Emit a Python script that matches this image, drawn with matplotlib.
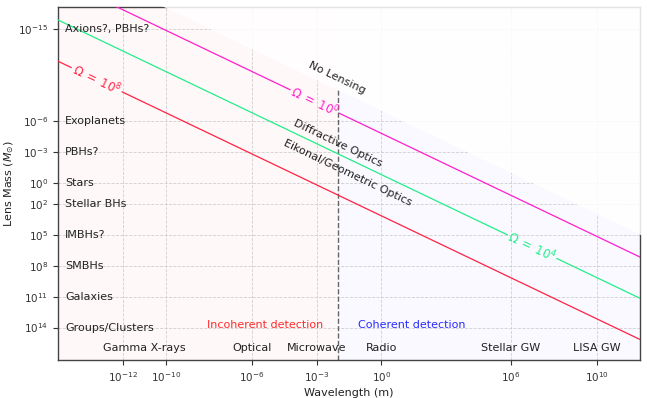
import numpy as np
import matplotlib
matplotlib.use('Agg')
import matplotlib.pyplot as plt
import matplotlib.transforms as mtransforms

plt.rcParams['font.family'] = ['DejaVu Sans']
plt.rcParams['mathtext.fontset'] = 'dejavusans'

# ---------------- data ----------------
lam_limits = [1e-15, 1e12]
mass_limits = [10**-17.1, 10**17.15]

omega_values = [1e0, 1e4, 1e8]
omega_labels = [r'$\mathit{\Omega}\;=\;\mathit{10}^{\mathit{0}}$',
                r'$\mathit{\Omega}\;=\;\mathit{10}^{\mathit{4}}$',
                r'$\mathit{\Omega}\;=\;\mathit{10}^{\mathit{8}}$']
omega_colors = ['#ff1ecc', '#22ee88', '#ff2244']
omega_label_lam = [10**-3.1, 10**7.0, 10**-13.2]
omega_gaps = [(10**-4.23, 10**-2.0), (10**5.9, 10**8.14), (10**-14.37, 10**-12.05)]
omega_k = 10**4.84          # Omega = k * M / lambda
omega_nolens = 10**-2.2     # below this: no lensing
lam_split = 1e-2            # incoherent / coherent boundary

mass_ticks = [1e-15, 1e-6, 1e-3, 1e0, 1e2, 1e5, 1e8, 1e11, 1e14]
mass_ticklabels = [r'$10^{-15}$', r'$10^{-6}$', r'$10^{-3}$', r'$10^{0}$', r'$10^{2}$',
                   r'$10^{5}$', r'$10^{8}$', r'$10^{11}$', r'$10^{14}$']
mass_categories = ['Axions?, PBHs?', 'Exoplanets', 'PBHs?', 'Stars', 'Stellar BHs',
                   'IMBHs?', 'SMBHs', 'Galaxies', 'Groups/Clusters']

lam_ticks = [1e-12, 1e-10, 1e-6, 1e-3, 1e0, 1e6, 1e10]
lam_ticklabels = [r'$10^{-12}$', r'$10^{-10}$', r'$10^{-6}$', r'$10^{-3}$', r'$10^{0}$',
                  r'$10^{6}$', r'$10^{10}$']
band_names = ['Gamma X-rays', 'Optical', 'Microwave', 'Radio', 'Stellar GW', 'LISA GW']
band_lam = [1e-11, 1e-6, 1e-3, 1e0, 1e6, 1e10]
band_mass = 1e16

regime_names = ['No Lensing', 'Diffractive Optics', 'Eikonal/Geometric Optics']
regime_lam = [10**-2.05, 10**-2.0, 10**-1.58]
regime_mass = [10**-10.2, 10**-3.88, 10**-1.05]

detect_names = ['Incoherent detection', 'Coherent detection']
detect_lam = [10**-5.41, 10**1.41]
detect_mass = 10**13.74
detect_colors = ['#ff2a2a', '#2a2aff']

# ---------------- figure ----------------
fig = plt.figure(figsize=(6.47, 3.98), dpi=100)
ax = fig.add_axes([58/647, 1-360/398, (640-58)/647, (360-7)/398])
ax.set_xscale('log')
ax.set_yscale('log')
ax.set_xlim(*lam_limits)
ax.set_ylim(mass_limits[1], mass_limits[0])  # inverted

def mass_of(omega, lam):
    return omega * np.asarray(lam) / omega_k

# shaded regions
ax.axvspan(lam_limits[0], lam_split, color='#ff0000', alpha=0.028, lw=0, zorder=0)
ax.axvspan(lam_split, lam_limits[1], color='#0000ff', alpha=0.025, lw=0, zorder=0)

# grid
ax.grid(True, which='major', ls='--', color='#d0d0d0', lw=0.6, zorder=1)
ax.set_axisbelow(True)

# no-lensing white region
lam_dense = np.logspace(-15.3, 12.3, 300)
mb = mass_of(omega_nolens, lam_dense)
top = np.full_like(mb, 10**-17.6)
ax.fill_between(lam_dense, mb, top, color='white', alpha=0.85, lw=0, zorder=2.6, clip_on=False)

# vertical split line
ax.plot([lam_split, lam_split], [mass_of(omega_nolens, lam_split), mass_limits[1]],
        ls='--', color='#666666', lw=1.0, zorder=2.2)

# Omega lines with gaps for labels
p0 = ax.transData.transform((1e-5, mass_of(1, 1e-5)))
p1 = ax.transData.transform((1e5, mass_of(1, 1e5)))
angle = np.degrees(np.arctan2(p1[1]-p0[1], p1[0]-p0[0]))

lam_line = np.logspace(-15, 12, 400)
for om, lab, col, ll, gap in zip(omega_values, omega_labels, omega_colors, omega_label_lam, omega_gaps):
    mask1 = lam_line <= gap[0]
    mask2 = lam_line >= gap[1]
    for m in (mask1, mask2):
        ax.plot(lam_line[m], mass_of(om, lam_line[m]), color=col, lw=0.9, zorder=3)
    ax.text(ll, mass_of(om, ll), lab, color=col, fontsize=8.5,
            rotation=angle, rotation_mode='anchor', ha='center', va='center', zorder=4)

# regime texts
for name, lx, my in zip(regime_names, regime_lam, regime_mass):
    ax.text(lx, my, name, fontsize=8, color='#222222', rotation=angle,
            rotation_mode='anchor', ha='center', va='center', zorder=4)

# category labels inside axes
trans = mtransforms.blended_transform_factory(ax.transAxes, ax.transData)
for cat, mt in zip(mass_categories, mass_ticks):
    ax.text(0.012, mt, cat, transform=trans, fontsize=8, color='#222222',
            ha='left', va='center', zorder=4)

# bands
for name, lx in zip(band_names, band_lam):
    ax.text(lx, band_mass, name, fontsize=8, color='#222222', ha='center', va='center', zorder=4)

# detection labels
for name, lx, col in zip(detect_names, detect_lam, detect_colors):
    ax.text(lx, detect_mass, name, fontsize=8, color=col, ha='center', va='center', zorder=4)

# ticks
ax.set_yticks(mass_ticks)
ax.set_yticklabels(mass_ticklabels)
ax.set_xticks(lam_ticks)
ax.set_xticklabels(lam_ticklabels)
ax.minorticks_off()
ax.tick_params(axis='both', labelsize=7.5, colors='#333333', length=3.5, width=0.8)

for s in ['left', 'bottom', 'top', 'right']:
    ax.spines[s].set_color('#444444')
    ax.spines[s].set_linewidth(1.0)

ax.set_xlabel('Wavelength (m)', fontsize=8, color='#222222', labelpad=3)
ax.set_ylabel(r'Lens Mass ($M_{\odot}$)', fontsize=8, color='#222222', labelpad=2)

fig.savefig('out.png', dpi=100)
